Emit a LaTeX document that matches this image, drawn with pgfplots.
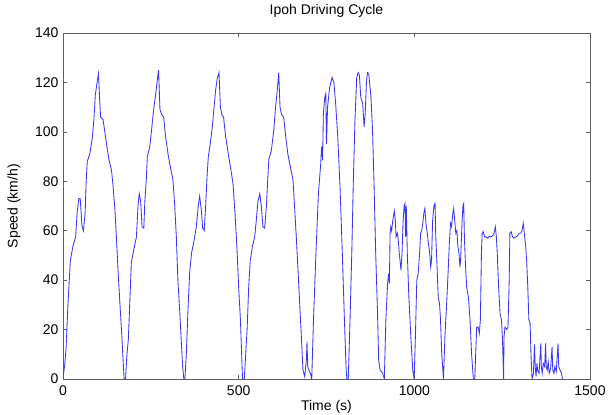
\documentclass[border=0pt]{standalone}
\usepackage{fontspec}
\setmainfont{Liberation Sans}
\usepackage{pgfplots}
\pgfplotsset{compat=1.18}
\definecolor{trace}{RGB}{55,55,245}
\definecolor{frame}{RGB}{95,95,95}

\begin{document}
\begin{tikzpicture}
\useasboundingbox (0,0) rectangle (608pt,415pt);
\begin{axis}[
  at={(63pt,36pt)}, anchor=south west,
  scale only axis,
  width=527pt, height=346pt,
  xmin=0, xmax=1500,
  ymin=0, ymax=140,
  xtick={0,500,1000,1500},
  ytick={0,20,...,140},
  tick align=inside,
  tick pos=both,
  major tick length=4pt,
  axis line style={frame, line width=0.6pt},
  tick style={frame, line width=0.6pt},
  /pgf/number format/assume math mode=true,
  /pgf/number format/1000 sep={},
  font=\fontsize{14}{16}\selectfont,
  xticklabel style={yshift=-3pt},
  yticklabel style={xshift=-1pt},
  title={Ipoh Driving Cycle},
  title style={at={(axis description cs:0.5,1.035)}, anchor=base},
  xlabel={Time (s)},
  xlabel style={at={(axis description cs:0.5,-0.09)}, anchor=base},
  ylabel={Speed (km/h)},
  ylabel style={at={(axis description cs:-0.093,0.5)}, anchor=center},
]
\addplot[trace, line width=0.85pt] coordinates {
  (0,0) (5,6) (9,13) (14,30) (21,48) (28,53.5) (36,57.5) (40,67) (45,73) (49,73)
  (54,62) (58,60) (63,67) (66,80) (69,88) (76,91) (83,97) (88,105) (92,115) (97,120)
  (101,123.5) (104,114) (107,106) (114,105) (120,99) (125,94) (131,88.5) (138,84.5)
  (142,79) (148,68) (152,57.5) (157,43) (162,30.5) (167,18.5) (171,7.7) (174,0) (178,0)
  (182,10) (186,16) (190,30.6) (194.5,47) (201,52) (209,57.5) (213.5,70) (217,75)
  (221,72) (225,61.6) (230,61) (233,72) (237,80.5) (240,90) (247,94) (252,100.7)
  (258,109) (264,115.5) (268.5,121) (272,125) (276,109) (282,106.7) (286.5,106)
  (292,98) (299,91) (305.5,86) (313,80.5) (318,70) (322.6,57.5) (327,40) (332,28)
  (337,14.4) (340.6,5) (344,0) (347,0)
  (351,10) (356,29) (360.5,43) (366,51) (373,56) (379.5,61.6) (385,70) (389,74)
  (394,68) (397.5,61) (402,60) (406,70) (410,82) (413.7,90) (419,95) (425,102)
  (430,110) (434.5,117) (439,121.6) (444,124) (448,110) (452.6,106.7) (457,106)
  (463,98) (470.6,91) (478,84.5) (484,79) (489.6,67) (495,53.5) (500,37) (505,24)
  (508.5,10) (511,0) (516,0)
  (520,10) (524,20) (528.5,37) (533,48) (539,53.5) (545.6,57.5) (550,64) (555,72)
  (560,75) (564.5,70) (569,61.6) (574,61) (579,70) (582.6,80.5) (586,89) (593,92.5)
  (600,100.7) (605,110) (610,117) (614,124) (617.7,110) (622,107) (628,106) (634,98)
  (640,91) (647,86) (654.7,80.5) (659,70) (664,57.5) (669,44) (673.6,30.6) (678,18.5)
  (683,3.6) (688,1) (692.6,7.7) (694.5,15) (696.5,5) (700,3.6) (704,2.3) (708,0)
  (713,24) (720,51) (727,75) (733.5,87) (736,94) (739,88.5) (741,107) (745,114)
  (748,115.5) (750,95) (753,110) (759,118) (766,122) (771,120) (776,111.5) (782,98)
  (788.5,77.8) (795,51) (801,24) (805.6,5) (808,0) (812,0)
  (817,24) (822,51) (826,77.8) (831,104.7) (836,122) (840,124) (843.6,123) (847.5,114)
  (853,111.5) (857,102) (860,107) (864,121) (867,124) (870,123.6) (874,118) (877,113)
  (881,100.7) (885.5,77.8) (890,51) (895,28) (898.5,7.7) (902.5,3.6) (910,2.3) (914.6,0)
  (919,24) (924,38.7) (927,42.7) (929,38.7) (931,59) (933,61.6) (935.5,60) (938.5,64)
  (943,68) (946,64) (948,57.5) (952,59) (955,55) (957,51) (960,47) (962,44) (965,51)
  (968,64) (971,70) (973.5,71) (975,57.5) (977,70) (980,51) (984,34.6) (990,17)
  (995.5,3.6) (999.5,0)
  (1003,17) (1007,40) (1011,42.7) (1015,51) (1018,59) (1021,60) (1024,63) (1027,67)
  (1030,69) (1033,63) (1037,59) (1040,55) (1043.7,51) (1046.5,45.4) (1049,48) (1052,64)
  (1056,70.3) (1059,71) (1061,57.5) (1064,48) (1068,33) (1071.7,30.6) (1074.5,24)
  (1078,10) (1083,0)
  (1087,17) (1092,30.6) (1096,42.7) (1100,56) (1103,63) (1106,61.6) (1109.5,67)
  (1112,69) (1115,64) (1118,59) (1121,60) (1124,53.5) (1127,51) (1130,45.4) (1131.7,48)
  (1136,64) (1138.5,70.3) (1140.5,71) (1142.5,57.5) (1145,48) (1149,37) (1154,33)
  (1158.5,24) (1163,10) (1168,0)
  (1172,0) (1174.6,10) (1177.5,21) (1182,21) (1185,18.5) (1188,24) (1191,51) (1193,59)
  (1196,59.6) (1200,57.5) (1204,57.5) (1209,57) (1213.5,57.8) (1218,57.5) (1223,58)
  (1227,59) (1230.5,61.6) (1233.5,57.5) (1236,51) (1240,37) (1244,26.5) (1248,24)
  (1251,15.8) (1254,0)
  (1255.3,17) (1258,21) (1263,20) (1266.6,21) (1270,40) (1272,59) (1275.7,59.6)
  (1279.5,57.5) (1284,57) (1288.5,57.5) (1293,57.8) (1298,59) (1303,59) (1306.5,60)
  (1310,63) (1313,59) (1317,53.5) (1320,47) (1323,37) (1326,24) (1329.5,22.5)
  (1332,10) (1335,0)
  (1339,2.3) (1342,14) (1344,5) (1346.4,1) (1349,6.3) (1351,3.6) (1355,2.3) (1360,14.4)
  (1361.5,5) (1364,2.3) (1367,6.3) (1371,5) (1373.6,14.4) (1375.5,5) (1378,3.6)
  (1381,7) (1384,2.3) (1388,4.3) (1392,13) (1394,3.6) (1397.5,2.3) (1400,5) (1404,3)
  (1409,14.4) (1411,5) (1415,3.6) (1419,2.3) (1421.6,0)
};
\end{axis}
\end{tikzpicture}
\end{document}
